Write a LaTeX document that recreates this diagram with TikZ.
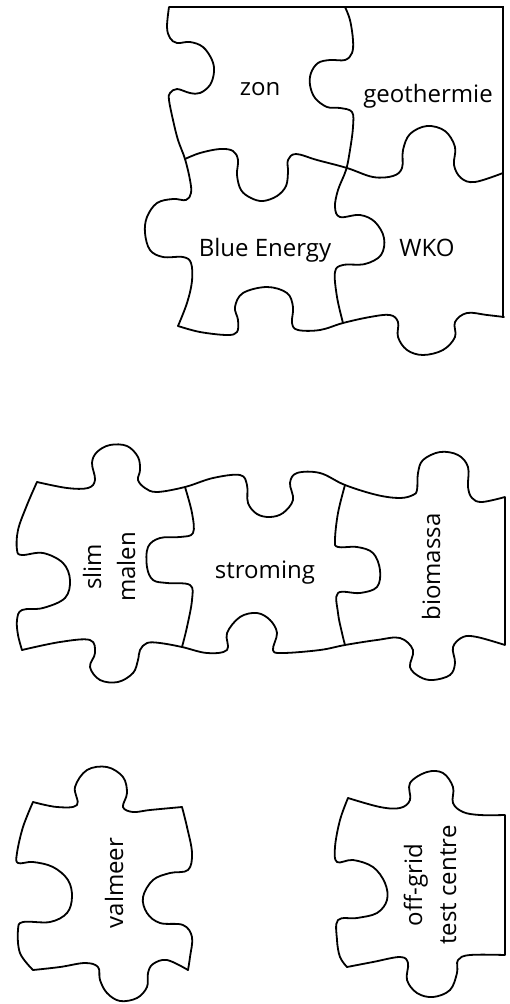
\documentclass[tikz,border=0pt]{standalone}
\usepackage{fontspec}
\setmainfont{Open Sans}
\begin{document}
\begin{tikzpicture}[x=1pt,y=-1pt,
  edge/.style={line width=1.8pt, line join=round, line cap=round},
  border/.style={line width=2.8pt, line join=miter},
  sm/.style={smooth, tension=0.6},
  lbl/.style={font=\fontsize{24}{34}\selectfont, inner sep=0pt, align=center}]
\useasboundingbox[fill=white] (0,0) rectangle (510,1004);

% ---------- top group ----------
\draw[border] (169,7) -- (503,7) -- (503,318);
\draw[edge] plot[sm] coordinates {(169,7) (167,27) (170,38) (177,43) (190,42) (203,47) (212,60) (214,72) (210,85) (200,93) (190,93) (177,89) (170,93) (169,100) (173,120) (178,140) (185,159) (190,180) (191,193) (186,200) (173,199) (157,203) (147,217) (145,233) (150,250) (163,257) (183,257) (191,263) (192,281) (187,303) (178,326)};
\draw[edge] plot[sm] coordinates {(178,326) (200,332) (227,335) (237,332) (238,320) (235,307) (243,293) (267,287) (287,293) (293,307) (292,323) (298,330) (320,330) (343,323) (370,317) (390,315) (398,322) (398,337) (407,350) (423,355) (443,350) (455,337) (455,322) (467,313) (487,315) (504,317)};
\draw[edge] plot[sm] coordinates {(185,159) (200,153) (220,149) (233,151) (238,160) (237,175) (241,190) (251,198) (263,201) (277,196) (286,186) (288,172) (288,160) (296,154) (317,160) (347,168) (373,177) (393,176) (402,168) (403,150) (410,134) (427,126) (445,131) (455,147) (454,165) (461,178) (475,182) (503,173)};
\draw[edge] plot[sm] coordinates {(345,7) (350,20) (353,40) (352,53) (345,60) (330,60) (318,63) (311,73) (310,85) (315,98) (327,107) (340,108) (352,112) (353,127) (350,150) (346,170) (338,190) (335,207) (340,217) (360,215) (375,222) (384,238) (381,255) (365,264) (343,265) (335,272) (337,297) (343,323)};

\node[lbl, anchor=base] (zon) at (260,95) {zon};
\node[lbl, anchor=base] (geo) at (428,102) {geothermie};
\node[lbl, anchor=base] (blue) at (265,256) {Blue Energy};
\node[lbl, anchor=base] (wko) at (427,256) {WKO};

% ---------- middle group ----------
\draw[edge] plot[sm] coordinates {(37,482) (67,488) (88,488) (95,480) (92,463) (97,452) (110,445) (127,446) (138,457) (140,470) (138,480) (145,488) (157,492) (185,487) (213,478) (240,475) (247,485) (248,503) (257,514) (270,517) (283,513) (293,500) (290,483) (297,473) (320,473) (345,485) (377,495) (400,498) (413,495) (417,490) (418,473) (423,460) (440,452) (458,455) (468,467) (468,487) (472,498) (482,502) (505,497)};
\draw[border] (505,497) -- (505,645);
\draw[edge] plot[sm] coordinates {(37,482) (27,505) (18,530) (17,550) (22,555) (43,553) (63,563) (70,580) (65,598) (43,608) (22,610) (17,620) (18,635) (22,650)};
\draw[edge] plot[sm] coordinates {(22,650) (60,642) (90,640) (95,653) (90,667) (100,680) (118,682) (133,673) (138,660) (140,650) (147,643) (160,643) (182,647) (207,653) (227,650) (227,633) (240,617) (257,613) (270,620) (277,633) (273,650) (283,653) (320,650) (345,645) (377,640) (400,638) (413,650) (410,667) (420,677) (433,680) (450,675) (455,663) (453,647) (463,637) (477,637) (505,645)};
\draw[edge] plot[sm] coordinates {(185,487) (192,513) (193,533) (180,537) (160,538) (148,547) (147,567) (153,580) (167,583) (190,585) (192,600) (187,627) (182,647)};
\draw[edge] plot[sm] coordinates {(345,485) (338,513) (335,540) (338,547) (357,547) (373,553) (380,570) (377,587) (360,593) (338,593) (338,613) (342,633) (345,645)};

\node[lbl, anchor=base] (strom) at (265,578) {stroming};
\node[lbl, rotate=90] (slim) at (109,567) {slim\\malen};
\node[lbl, rotate=90, anchor=base] (bio) at (440,567) {biomassa};

% ---------- bottom group ----------
\draw[edge] plot[sm] coordinates {(33,802) (57,807) (77,805) (75,787) (87,770) (107,767) (123,777) (127,793) (123,807) (133,812) (150,810) (182,807)};
\draw[edge] plot[sm] coordinates {(182,807) (187,827) (192,853) (188,870) (170,873) (153,880) (143,897) (147,913) (160,923) (183,925) (192,937) (190,957) (188,970)};
\draw[edge] plot[sm] coordinates {(33,970) (60,967) (85,963) (98,967) (100,980) (107,993) (120,1001) (137,998) (147,987) (148,973) (153,964) (167,960) (188,970)};
\draw[edge] plot[sm] coordinates {(33,802) (23,827) (17,853) (18,863) (33,862) (53,867) (68,880) (72,897) (67,913) (50,922) (23,922) (18,930) (20,953) (33,970)};

\draw[edge] plot[sm] coordinates {(348,798) (380,807) (400,808) (410,800) (410,783) (427,772) (443,773) (453,787) (453,803) (463,812) (480,815) (505,815)};
\draw[border] (505,815) -- (505,955);
\draw[edge] plot[sm] coordinates {(348,798) (340,820) (335,847) (337,862) (353,860) (373,867) (385,883) (387,900) (377,913) (357,918) (338,920) (337,940) (340,957) (347,967)};
\draw[edge] plot[sm] coordinates {(347,967) (373,962) (400,957) (408,963) (407,980) (417,993) (433,997) (450,990) (457,973) (458,960) (470,955) (505,955)};

\node[lbl, rotate=90, anchor=base] (valmeer) at (123,883) {valmeer};
\node[lbl, rotate=90] (offgrid) at (430,885) {off-grid\\test centre};
\end{tikzpicture}
\end{document}
